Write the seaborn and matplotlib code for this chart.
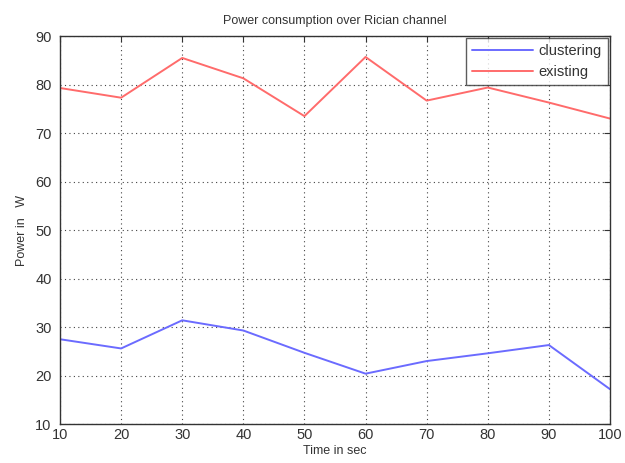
import matplotlib
matplotlib.use("Agg")
import matplotlib.pyplot as plt
import seaborn as sns
import pandas as pd

time_sec = [10, 20, 30, 40, 50, 60, 70, 80, 90, 100]
clustering = [27.5, 25.6, 31.4, 29.3, 24.7, 20.4, 23.0, 24.6, 26.3, 17.2]
existing = [79.3, 77.3, 85.5, 81.3, 73.5, 85.7, 76.7, 79.4, 76.3, 73.0]
series_names = ["clustering", "existing"]
x_ticks = [10, 20, 30, 40, 50, 60, 70, 80, 90, 100]
y_ticks = [10, 20, 30, 40, 50, 60, 70, 80, 90]

sns.set_theme(style="white")
plt.rcParams['font.family'] = ['Liberation Sans', 'DejaVu Sans']

df = pd.DataFrame({
    "Time": time_sec * 2,
    "Power": clustering + existing,
    "Series": [series_names[0]] * len(time_sec) + [series_names[1]] * len(time_sec),
})

fig = plt.figure(figsize=(6.25, 4.63), dpi=100)
ax = fig.add_axes([0.096, 0.084, 0.88, 0.838])
sns.lineplot(data=df, x="Time", y="Power", hue="Series",
             palette={"clustering": "#6b6bff", "existing": "#ff6b6b"},
             linewidth=1.4, ax=ax)

ax.set_xlim(10, 100)
ax.set_ylim(10, 90)
ax.set_xticks(x_ticks)
ax.set_yticks(y_ticks)
txt = "#333333"
ax.tick_params(direction="in", top=True, right=True, length=4, width=0.8,
               labelsize=10.5, colors="#333333", labelcolor=txt)
ax.tick_params(axis="y", pad=6)
ax.tick_params(axis="x", pad=3)
ax.grid(True, linestyle=(0, (1, 3)), color="#444444", linewidth=0.8)
for s in ax.spines.values():
    s.set_color("#333333")
    s.set_linewidth(1.0)
ax.set_title("Power consumption over Rician channel", fontsize=9, color=txt, pad=9)
ax.set_xlabel("Time in sec", fontsize=9, color=txt, labelpad=2)
ax.set_ylabel("Power in   W", fontsize=9, color=txt, labelpad=5)

leg = ax.legend(loc="upper right", fontsize=10.5, frameon=True, fancybox=False,
                borderaxespad=0.15, handlelength=4.2, handletextpad=0.4,
                borderpad=0.4, labelspacing=0.45)
leg.get_frame().set_edgecolor("#333333")
leg.get_frame().set_linewidth(1.0)
leg.set_title(None)
for t in leg.get_texts():
    t.set_color(txt)

fig.savefig("out.png", dpi=100)
